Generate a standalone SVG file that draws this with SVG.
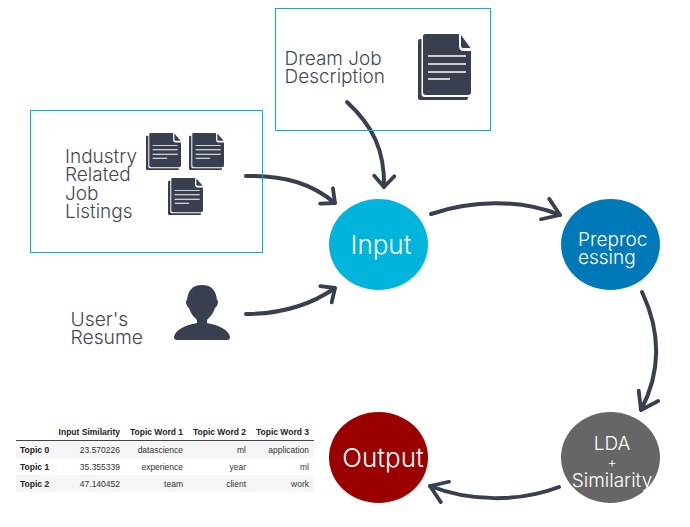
<svg xmlns="http://www.w3.org/2000/svg" width="690" height="527" viewBox="0 0 690 527">
<style>
.box{fill:none;stroke:#00b4d8;stroke-width:1}
.lbl{font-family:"Inter","Liberation Sans",sans-serif;font-weight:300;font-size:19px;fill:#444954}
.cir{font-family:"Inter","Liberation Sans",sans-serif;font-weight:300;fill:#fff}
.conn{fill:none;stroke:#3a3f50;stroke-width:4;stroke-linecap:round}
.th{font-family:"Liberation Sans",Arial,sans-serif;font-size:8.5px;font-weight:700;fill:#222;text-anchor:end}
.td{font-family:"Liberation Sans",Arial,sans-serif;font-size:8.5px;fill:#333;text-anchor:end}
.tb{font-family:"Liberation Sans",Arial,sans-serif;font-size:8.5px;font-weight:700;fill:#222}
</style>
<defs>
<marker id="big" viewBox="0 0 20 26" refX="18" refY="13" markerWidth="20" markerHeight="26" markerUnits="userSpaceOnUse" orient="auto">
<path d="M2 2L18 13L2 24" fill="none" stroke="#3a3f50" stroke-width="3.8" stroke-linecap="round" stroke-linejoin="round"/>
</marker>
<marker id="small" viewBox="0 0 16 24" refX="14" refY="12" markerWidth="16" markerHeight="24" markerUnits="userSpaceOnUse" orient="auto">
<path d="M3 2L14 12L3 22" fill="none" stroke="#3a3f50" stroke-width="3.8" stroke-linecap="round" stroke-linejoin="round"/>
</marker>
<symbol id="doc" viewBox="0 0 53 66" preserveAspectRatio="none">
<path d="M2 5H3.500V60Q3.500 63 6.500 63H50V64Q50 66 48 66H2Q0 66 0 64V7Q0 5 2 5Z" fill="#3a3f50"/>
<path d="M7 0H41V12Q41 17 46 17H53V58Q53 61 50 61H8Q5 61 5 58V2Q5 0 7 0Z" fill="#3a3f50"/>
<path d="M43 1L52.500 14H45Q43 14 43 12Z" fill="#3a3f50"/>
<path d="M10 22H48M10 30H48M10 38H48M10 45H32" stroke="#fff" stroke-width="1.600" fill="none"/>
</symbol>
</defs>
<rect width="690" height="527" fill="#fff"/>
<g id="connectors">
<path class="conn" d="M347 102C372 125 385 150 384 187" marker-end="url(#small)"/>
<path class="conn" d="M246 176C285 175 312 184 335 203" marker-end="url(#small)"/>
<path class="conn" d="M246 314C285 314 312 304 335 288" marker-end="url(#small)"/>
<path class="conn" d="M431 214C472 200 520 199 560 215" marker-end="url(#big)"/>
<path class="conn" d="M642 292C660 330 662 370 641 410" marker-end="url(#big)"/>
<path class="conn" d="M559 487C520 502 470 502 430 486" marker-end="url(#big)"/>
</g>
<g id="dream-job">
<rect class="box" x="275.500" y="8.500" width="215" height="122"/>
<text class="lbl"><tspan x="284.500" y="65">Dream Job</tspan><tspan x="284.500" y="83">Description</tspan></text>
<use href="#doc" x="418" y="34" width="53" height="66"/>
</g>
<g id="industry">
<rect class="box" x="30.500" y="110.500" width="232" height="142"/>
<text class="lbl"><tspan x="65" y="163">Industry</tspan><tspan x="65" y="181">Related</tspan><tspan x="65" y="200">Job</tspan><tspan x="65" y="218">Listings</tspan></text>
<use href="#doc" x="146" y="133" width="35" height="37"/>
<use href="#doc" x="189" y="133" width="35" height="37"/>
<use href="#doc" x="168" y="178" width="35" height="37"/>
</g>
<g id="resume">
<text class="lbl" style="font-size:19.300px"><tspan x="70.500" y="326">User's</tspan><tspan x="70.500" y="344">Resume</tspan></text>
<path fill="#3a3f50" d="M202 285C212 285 216 291 217 300C219 300 218 306 215 308C213 314 210 317 207 320V323C219 325 229 330 230 337Q230 340 227 340H177Q174 340 174 337C175 330 185 325 197 323V320C194 317 191 314 189 308C186 306 185 300 187 300C188 291 192 285 202 285Z"/>
</g>
<g id="input">
<ellipse cx="378.500" cy="244.500" rx="49.500" ry="45.500" fill="#00b4dc"/>
<text class="cir" x="381" y="254" font-size="26" text-anchor="middle">Input</text>
</g>
<g id="preprocessing">
<ellipse cx="610.500" cy="244.500" rx="49.500" ry="45.500" fill="#0079b8"/>
<text class="cir" font-size="19"><tspan x="578" y="246">Preproc</tspan><tspan x="578" y="264">essing</tspan></text>
</g>
<g id="lda">
<ellipse cx="610.500" cy="457.500" rx="49.500" ry="45.500" fill="#666"/>
<text class="cir" font-size="19" text-anchor="middle"><tspan x="612" y="450">LDA</tspan><tspan x="612" y="467" font-size="14">+</tspan><tspan x="612" y="487">Similarity</tspan></text>
</g>
<g id="output">
<ellipse cx="378.500" cy="457.500" rx="49.500" ry="45.500" fill="#9a0000"/>
<text class="cir" x="383" y="467" font-size="26" text-anchor="middle">Output</text>
</g>
<g id="table">
<rect x="16" y="441" width="298" height="17" fill="#f5f5f5"/>
<rect x="16" y="475" width="298" height="17" fill="#f5f5f5"/>
<path d="M16 440.500H314" stroke="#444" stroke-width="1"/>
<text class="th" x="120" y="435">Input Similarity</text>
<text class="th" x="183" y="435">Topic Word 1</text>
<text class="th" x="246" y="435">Topic Word 2</text>
<text class="th" x="309" y="435">Topic Word 3</text>
<text class="tb" x="20" y="453">Topic 0</text>
<text class="td" x="120" y="453">23.570226</text>
<text class="td" x="183" y="453">datascience</text>
<text class="td" x="246" y="453">ml</text>
<text class="td" x="309" y="453">application</text>
<text class="tb" x="20" y="470">Topic 1</text>
<text class="td" x="120" y="470">35.355339</text>
<text class="td" x="183" y="470">experience</text>
<text class="td" x="246" y="470">year</text>
<text class="td" x="309" y="470">ml</text>
<text class="tb" x="20" y="487">Topic 2</text>
<text class="td" x="120" y="487">47.140452</text>
<text class="td" x="183" y="487">team</text>
<text class="td" x="246" y="487">client</text>
<text class="td" x="309" y="487">work</text>
</g>
</svg>
